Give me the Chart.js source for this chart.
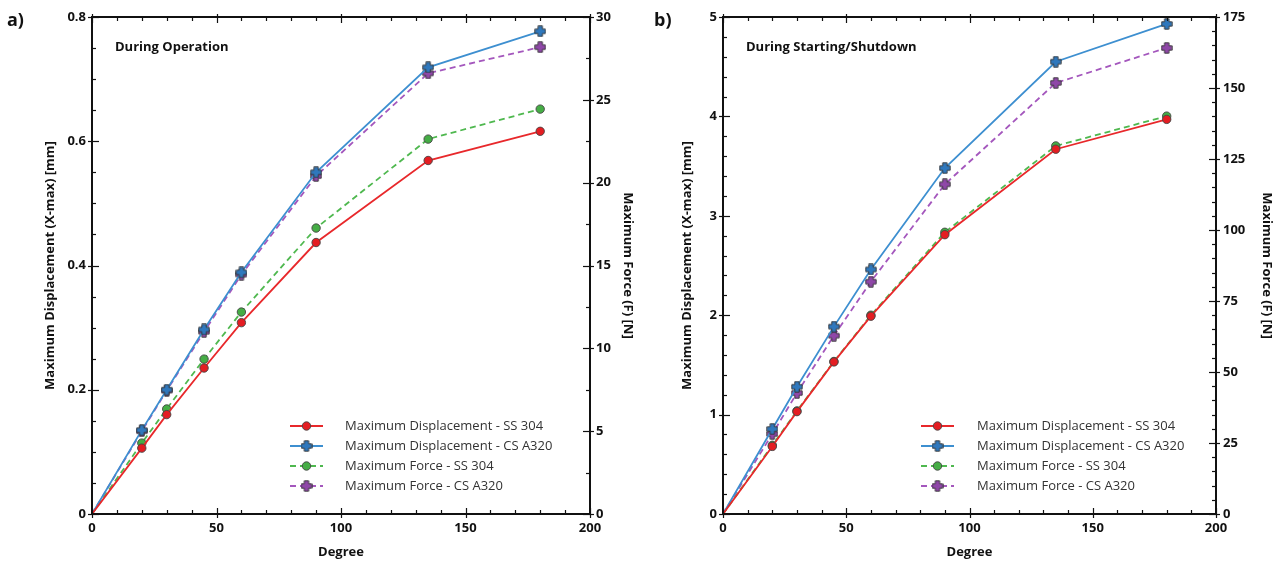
<!DOCTYPE html>
<html><head><meta charset="utf-8">
<script src="https://cdn.jsdelivr.net/npm/chart.js@4/dist/chart.umd.min.js"></script>
<style>
body{margin:0;background:#fff;width:1284px;height:561px;overflow:hidden;font-family:'Open Sans',sans-serif}
.w{position:absolute;top:0;width:642px;height:561px}
</style></head><body>
<div class="w" style="left:0"><canvas id="c1" width="642" height="561"></canvas></div>
<div class="w" style="left:642px"><canvas id="c2" width="642" height="561"></canvas></div>
<script>
// ---- data ----
const degrees = [0, 20, 30, 45, 60, 90, 135, 180];
// a) During Operation
const opDispSS304  = [0, 0.106, 0.160, 0.235, 0.308, 0.437, 0.569, 0.616];
const opDispCSA320 = [0, 0.135, 0.200, 0.297, 0.389, 0.550, 0.719, 0.777];
const opForceSS304  = [0, 4.28, 6.34, 9.35, 12.19, 17.26, 22.63, 24.44];
const opForceCSA320 = [0, 5.00, 7.45, 11.00, 14.45, 20.40, 26.60, 28.18];
// b) During Starting/Shutdown
const suDispSS304  = [0, 0.68, 1.03, 1.53, 1.99, 2.81, 3.67, 3.97];
const suDispCSA320 = [0, 0.855, 1.28, 1.885, 2.46, 3.48, 4.55, 4.93];
const suForceSS304  = [0, 24.2, 36.3, 53.7, 70.0, 99.2, 129.6, 140.1];
const suForceCSA320 = [0, 28.2, 42.6, 62.8, 81.8, 116.1, 151.8, 164.1];
// tick labels
const degreeTicks = [0, 50, 100, 150, 200];
const opDispTicks = [0, 0.2, 0.4, 0.6, 0.8];
const opForceTicks = [0, 5, 10, 15, 20, 25, 30];
const suDispTicks = [0, 1, 2, 3, 4, 5];
const suForceTicks = [0, 25, 50, 75, 100, 125, 150, 175];
const seriesNames = ['Maximum Displacement - SS 304','Maximum Displacement - CS A320','Maximum Force - SS 304','Maximum Force - CS A320'];

// ---- styles ----
const FONT = "'Open Sans', sans-serif";
const C = {red:'#e8282b', blue:'#3d8fd0', green:'#4fb84f', purple:'#a457bd'};
const F = {red:'#e41d22', blue:'#2f78bd', green:'#45ad45', purple:'#8f47a8'};

function plusImg(fill){
  const s=12, c=document.createElement('canvas'); c.width=s; c.height=s;
  const g=c.getContext('2d'); const m=s/2, a=2.2, h=5.2;
  g.beginPath();
  g.moveTo(m-a,m-h); g.lineTo(m+a,m-h); g.lineTo(m+a,m-a); g.lineTo(m+h,m-a);
  g.lineTo(m+h,m+a); g.lineTo(m+a,m+a); g.lineTo(m+a,m+h); g.lineTo(m-a,m+h);
  g.lineTo(m-a,m+a); g.lineTo(m-h,m+a); g.lineTo(m-h,m-a); g.lineTo(m-a,m-a);
  g.closePath(); g.fillStyle=fill; g.fill(); g.strokeStyle='#333'; g.lineWidth=0.9; g.stroke();
  return c;
}
const plusBlue = plusImg(F.blue), plusPurple = plusImg(F.purple);

function pts(arr){ return degrees.map((d,i)=>({x:d, y:arr[i]})); }

function ds(label, arr, axis, color, fill, style, dashed){
  return {
    label, data: pts(arr), yAxisID: axis,
    borderColor: color, borderWidth: 1.8, borderDash: dashed ? [6,4] : [],
    backgroundColor: fill, pointBackgroundColor: fill, pointBorderColor:'#444', pointBorderWidth: 0.9,
    pointStyle: style, pointRadius: (c)=> c.dataIndex===0 ? 0 : 4.2, pointHoverRadius: 4.2,
    tension: 0, fill:false
  };
}

const framePlugin = {
  id:'frame',
  afterDraw(chart, args, o){
    const {ctx, chartArea:a, scales} = chart;
    ctx.save();
    ctx.strokeStyle='#111'; ctx.lineWidth=2;
    ctx.strokeRect(a.left, a.top, a.right-a.left, a.bottom-a.top);
    ctx.lineWidth=1.2;
    const isMajor=(v,step)=>Math.abs(v/step-Math.round(v/step))<1e-6;
    const x=scales.x;
    for(let k=0;;k++){ const v=x.min+k*o.xMinor; if(v>x.max+1e-9) break;
      const p=Math.round(x.getPixelForValue(v))+0.5, M=isMajor(v,o.xMajor);
      ctx.beginPath();
      if(M){ ctx.moveTo(p,a.bottom+4); ctx.lineTo(p,a.bottom-6); ctx.moveTo(p,a.top-3); ctx.lineTo(p,a.top+6); }
      else { ctx.moveTo(p,a.bottom); ctx.lineTo(p,a.bottom-4); ctx.moveTo(p,a.top); ctx.lineTo(p,a.top+4); }
      ctx.stroke();
    }
    const yl=scales.y;
    for(let k=0;;k++){ const v=yl.min+k*o.yMinor; if(v>yl.max+1e-9) break;
      const p=Math.round(yl.getPixelForValue(v))+0.5, M=isMajor(v,o.yMajor);
      ctx.beginPath();
      if(M){ ctx.moveTo(a.left-4,p); ctx.lineTo(a.left+7,p); } else { ctx.moveTo(a.left,p); ctx.lineTo(a.left+4,p); }
      ctx.stroke();
    }
    const yr=scales.y2;
    for(let k=0;;k++){ const v=yr.min+k*o.y2Minor; if(v>yr.max+1e-9) break;
      const p=Math.round(yr.getPixelForValue(v))+0.5, M=isMajor(v,o.y2Major);
      ctx.beginPath();
      if(M){ ctx.moveTo(a.right+4,p); ctx.lineTo(a.right-7,p); } else { ctx.moveTo(a.right,p); ctx.lineTo(a.right-4,p); }
      ctx.stroke();
    }
    ctx.fillStyle='#111'; ctx.textBaseline='middle'; ctx.textAlign='left';
    ctx.font="bold 18px "+FONT; ctx.fillText(o.panel, o.panelX, 21);
    ctx.font="bold 13px "+FONT; ctx.fillText(o.caption, a.left+23, 47);
    const L=o.legend;
    chart.data.datasets.forEach((d,i)=>{
      const y=L.y+i*L.dy;
      ctx.save();
      ctx.strokeStyle=d.borderColor; ctx.lineWidth=1.8; ctx.setLineDash(d.borderDash);
      ctx.beginPath(); ctx.moveTo(L.x,y); ctx.lineTo(L.x+L.len,y); ctx.stroke();
      ctx.setLineDash([]);
      const cx=L.x+L.len/2;
      if(d.pointStyle==='circle'){
        ctx.beginPath(); ctx.arc(cx,y,4.2,0,Math.PI*2); ctx.fillStyle=d.pointBackgroundColor; ctx.fill();
        ctx.strokeStyle='#444'; ctx.lineWidth=0.9; ctx.stroke();
      } else {
        ctx.drawImage(d.pointStyle, cx-d.pointStyle.width/2, y-d.pointStyle.height/2);
      }
      ctx.fillStyle='#333'; ctx.font="13px "+FONT; ctx.textBaseline='middle'; ctx.textAlign='left';
      ctx.fillText(d.label, L.tx, y);
      ctx.restore();
    });
    ctx.restore();
  }
};

function make(id, cfg){
  const tickFont={family:FONT, size:13, weight:'bold'};
  const titleFont={family:FONT, size:13, weight:'bold'};
  return new Chart(document.getElementById(id), {
    type:'line',
    data:{datasets:[
      ds(seriesNames[0], cfg.d1, 'y',  C.red, F.red, 'circle', false),
      ds(seriesNames[1], cfg.d2, 'y',  C.blue, F.blue, cfg.plusB, false),
      ds(seriesNames[2], cfg.f1, 'y2', C.green, F.green, 'circle', true),
      ds(seriesNames[3], cfg.f2, 'y2', C.purple, F.purple, cfg.plusP, true)
    ]},
    options:{
      responsive:false, animation:false, devicePixelRatio:1,
      layout:{padding:{left:0,right:0,top:17,bottom:0}},
      plugins:{legend:{display:false}, tooltip:{enabled:false},
        frame:{xMinor:10,xMajor:50,yMinor:cfg.yMinor,yMajor:cfg.yMajor,y2Minor:cfg.y2Minor,y2Major:cfg.y2Major,
          panel:cfg.panel, panelX:cfg.panelX, caption:cfg.caption, legend:cfg.legend}},
      scales:{
        x:{type:'linear', position:'bottom', min:0, max:200,
          afterBuildTicks:s=>{s.ticks=degreeTicks.map(v=>({value:v}));},
          grid:{display:false, drawTicks:false}, border:{display:false},
          ticks:{padding:6, font:tickFont, color:'#111', maxRotation:0},
          title:{display:true, text:'Degree', font:titleFont, color:'#111', padding:{top:0,bottom:1}},
          afterFit:s=>{s.height=47;}},
        y:{type:'linear', position:'left', min:0, max:cfg.yMax,
          afterBuildTicks:s=>{s.ticks=cfg.yTicks.map(v=>({value:v}));},
          grid:{display:false, drawTicks:false}, border:{display:false},
          ticks:{padding:cfg.yPad, font:tickFont, color:'#111'},
          title:{display:true, text:'Maximum Displacement (X-max) [mm]', font:titleFont, color:'#111', padding:{top:cfg.yTitlePad,bottom:0}},
          afterFit:s=>{s.width=cfg.yW;}},
        y2:{type:'linear', position:'right', min:0, max:cfg.y2Max,
          afterBuildTicks:s=>{s.ticks=cfg.y2Ticks.map(v=>({value:v}));},
          grid:{display:false, drawTicks:false}, border:{display:false},
          ticks:{padding:cfg.y2Pad, font:tickFont, color:'#111'},
          title:{display:true, text:'Maximum Force (F) [N]', font:titleFont, color:'#111', padding:{top:cfg.y2TitlePad,bottom:0}},
          afterFit:s=>{s.width=cfg.y2W;}}
      }
    },
    plugins:[framePlugin]
  });
}

make('c1', {d1:opDispSS304, d2:opDispCSA320, f1:opForceSS304, f2:opForceCSA320, plusB:plusBlue, plusP:plusPurple,
  yMax:0.8, yTicks:opDispTicks, yMinor:0.05, yMajor:0.2, y2Max:30, y2Ticks:opForceTicks, y2Minor:2.5, y2Major:5,
  yW:92, y2W:52, yPad:6, y2Pad:6, yTitlePad:42, y2TitlePad:6,
  panel:'a)', panelX:7, caption:'During Operation',
  legend:{x:290, len:33, tx:345, y:426, dy:20}});
make('c2', {d1:suDispSS304, d2:suDispCSA320, f1:suForceSS304, f2:suForceCSA320, plusB:plusBlue, plusP:plusPurple,
  yMax:5, yTicks:suDispTicks, yMinor:0.2, yMajor:1, y2Max:175, y2Ticks:suForceTicks, y2Minor:5, y2Major:25,
  yW:81, y2W:68, yPad:6, y2Pad:7, yTitlePad:37, y2TitlePad:9,
  panel:'b)', panelX:12, caption:'During Starting/Shutdown',
  legend:{x:279, len:33, tx:335, y:426, dy:20}});
</script>
</body></html>
